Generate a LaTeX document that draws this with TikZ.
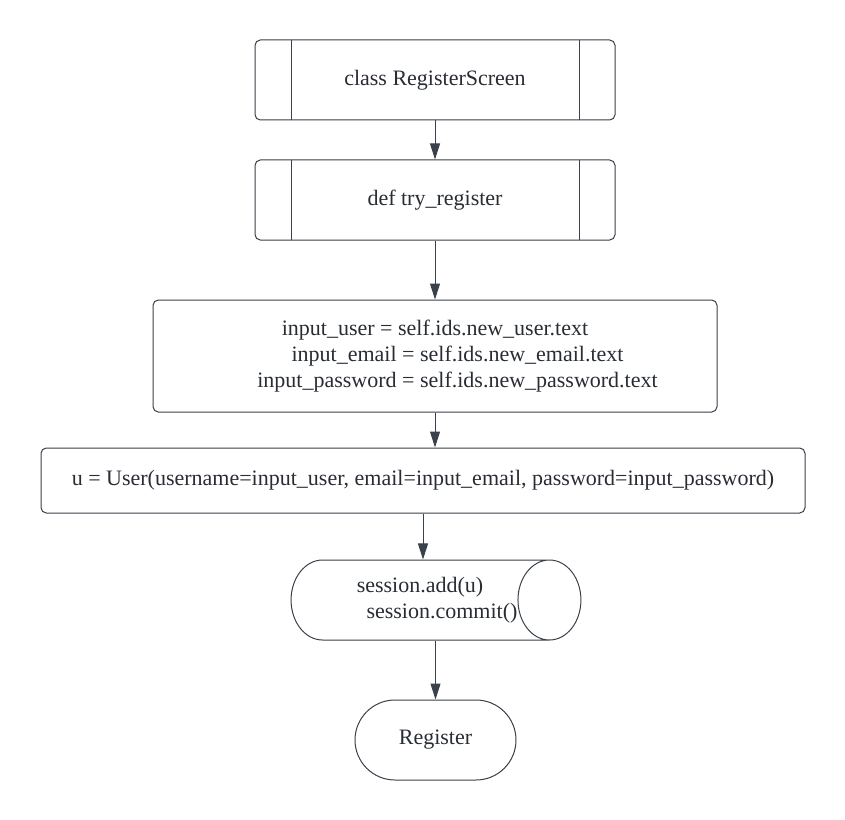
\documentclass[tikz,border=0pt]{standalone}
\usepackage{fontspec}
\setmainfont{Liberation Serif}
\usetikzlibrary{arrows.meta,shapes.geometric,shapes.misc}

\definecolor{lineclr}{RGB}{58,65,74}
\definecolor{txtclr}{RGB}{40,44,51}

\tikzset{
  flowbox/.style={draw=lineclr, line width=0.75pt, rounded corners=4pt, text=txtclr, align=center,
    font=\fontsize{16.5}{19.5}\selectfont, inner sep=0pt},
  subproc/.style={flowbox, minimum width=270pt, minimum height=60pt,
    path picture={\draw[lineclr, line width=0.75pt]
      ([xshift=27pt]path picture bounding box.north west) -- ([xshift=27pt]path picture bounding box.south west)
      ([xshift=-27pt]path picture bounding box.north east) -- ([xshift=-27pt]path picture bounding box.south east);}},
  dbstore/.style={flowbox, rounded corners=0pt, shape=cylinder, shape border rotate=0, aspect=1.37,
    minimum width=60pt, minimum height=213pt},
  termnode/.style={flowbox, rounded corners=0pt, shape=rounded rectangle, minimum width=120.75pt, minimum height=60pt},
  flowarrow/.style={draw=lineclr, line width=0.75pt, -{Triangle[length=12pt,width=7.5pt]}}
}

\begin{document}
\begin{tikzpicture}[x=0.75pt,y=0.75pt,yscale=-1,xscale=1]
    \useasboundingbox (0,0) rectangle (845,820);

    %Shape: Predefined Process [id:cls]
    \node [subproc] (cls) at (435,80) {class RegisterScreen};
    %Shape: Predefined Process [id:try]
    \node [subproc] (try) at (435,200) {def try\_register};
    %Shape: Process [id:inp]
    \node [flowbox, minimum width=423pt, minimum height=84pt] (inp) at (435,356)
      {input\_user = self.ids.new\_user.text\\
       \hspace*{2.05em}input\_email = self.ids.new\_email.text\\
       \hspace*{2.05em}input\_password = self.ids.new\_password.text};
    %Shape: Process [id:usr]
    \node [flowbox, minimum width=573pt, minimum height=48.75pt] (usr) at (423,480.5)
      {u = User(username=input\_user, email=input\_email, password=input\_password)};
    %Shape: Database [id:db]
    \node [dbstore] (db) at (420,600) {session.add(u)\\\hspace*{2em}session.commit()};
    %Shape: Terminator [id:reg]
    \node [termnode] (reg) at (435.5,740) {Register};

    %Straight Lines
    \draw [flowarrow] (cls) -- (try);
    \draw [flowarrow] (try) -- (inp);
    \draw [flowarrow] (inp.south) -- (inp.south |- usr.north);
    \draw [flowarrow] (usr.south) -- (usr.south |- db.north);
    \draw [flowarrow] (db.south -| reg.north) -- (reg.north);
\end{tikzpicture}
\end{document}
